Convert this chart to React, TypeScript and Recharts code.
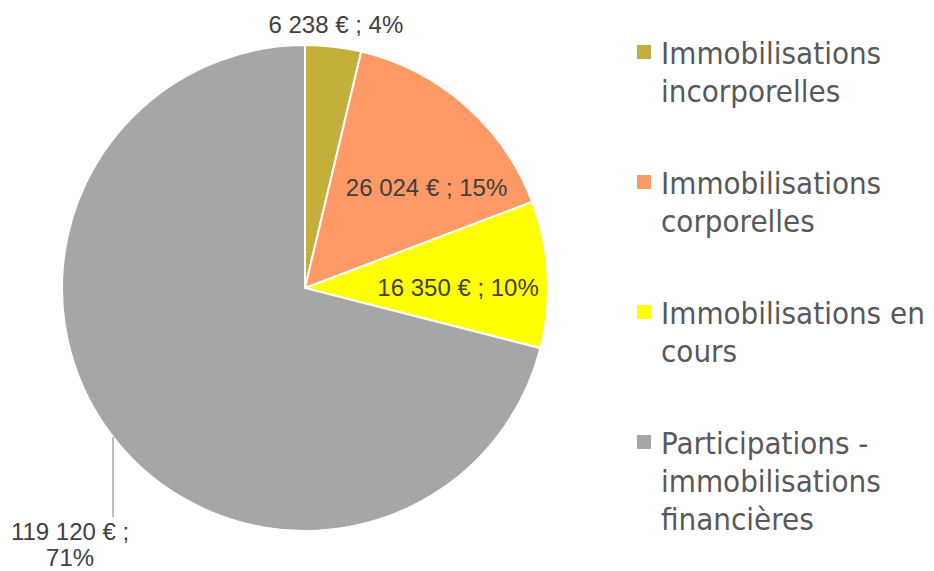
import { Cell, Legend, Pie, PieChart } from "recharts";

const categories = [
  "Immobilisations incorporelles",
  "Immobilisations corporelles",
  "Immobilisations en cours",
  "Participations - immobilisations financières",
];
const values = [6238, 26024, 16350, 119120];
const colors = ["#C4AF3D", "#FF9966", "#FFFF00", "#A6A6A6"];

const data = categories.map((name, i) => ({ name, value: values[i] }));

// Whole percentages that add up to 100 (largest remainder), like the source chart.
const total = values.reduce((s, v) => s + v, 0);
const rawPct = values.map((v) => (v / total) * 100);
const pcts = rawPct.map(Math.floor);
rawPct
  .map((p, i) => ({ i, rem: p - Math.floor(p) }))
  .sort((a, b) => b.rem - a.rem)
  .slice(0, 100 - pcts.reduce((s, v) => s + v, 0))
  .forEach(({ i }) => (pcts[i] += 1));

const RAD = Math.PI / 180;
const LABEL_FONT = "'Liberation Sans', Arial, sans-serif";
const LEGEND_FONT = "'DejaVu Sans Condensed', 'DejaVu Sans', sans-serif";

const fmt = (v: number) => String(v).replace(/\B(?=(\d{3})+(?!\d))/g, " ");

// Excel "best fit" nudges the inner labels a little clockwise to keep them inside.
const nudge: Record<number, number> = { 1: 9, 2: 3 };

function renderLabel(props: any) {
  const { cx, cy, midAngle, outerRadius, percent, value, index } = props;
  const pct = pcts[index];
  const text = `${fmt(value)} € ; ${pct}%`;
  const common = { fill: "#404040", fontSize: 24, fontFamily: LABEL_FONT };

  if (percent < 0.05) {
    const r = outerRadius + 22;
    const x = cx + r * Math.cos(-midAngle * RAD);
    const y = cy + r * Math.sin(-midAngle * RAD);
    return (
      <text x={x} y={y} textAnchor="middle" dominantBaseline="central" {...common}>
        {text}
      </text>
    );
  }

  if (percent > 0.5) {
    const ex = cx + outerRadius * Math.cos(-midAngle * RAD);
    const ey = cy + outerRadius * Math.sin(-midAngle * RAD);
    const ly = ey + 80;
    const tx = ex - 43;
    return (
      <g>
        <path d={`M${ex},${ey}L${ex},${ly}`} stroke="#A6A6A6" strokeWidth={1.5} fill="none" />
        <text x={tx} y={ly + 23} textAnchor="middle" {...common}>
          <tspan x={tx}>{`${fmt(value)} € ;`}</tspan>
          <tspan x={tx} dy={26}>{`${pct}%`}</tspan>
        </text>
      </g>
    );
  }

  const a = midAngle - (nudge[index] ?? 0);
  const r = outerRadius * (index === 2 ? 0.63 : 0.65);
  const x = cx + r * Math.cos(-a * RAD);
  const y = cy + r * Math.sin(-a * RAD);
  return (
    <text x={x} y={y} textAnchor="middle" dominantBaseline="central" {...common}>
      {text}
    </text>
  );
}

function LegendList({ payload }: any) {
  const items = [...(payload ?? [])].sort(
    (a: any, b: any) => categories.indexOf(a.value) - categories.indexOf(b.value)
  );
  return (
    <div>
      {items.map((p: any, i: number) => (
        <div key={i} style={{ display: "flex", alignItems: "flex-start", marginBottom: 54 }}>
          <span
            style={{
              width: 14,
              height: 14,
              marginTop: 11,
              marginRight: 10,
              background: p.color,
              flex: "none",
            }}
          />
          <span
            style={{
              width: 270,
              fontFamily: LEGEND_FONT,
              fontSize: 31,
              lineHeight: "38px",
              color: "#595959",
            }}
          >
            {p.value}
          </span>
        </div>
      ))}
    </div>
  );
}

export default function App() {
  return (
    <PieChart width={926} height={563} margin={{ top: 0, right: 0, bottom: 0, left: 0 }}>
      <Pie
        data={data}
        dataKey="value"
        nameKey="name"
        cx={297}
        cy={280}
        outerRadius={243}
        startAngle={90}
        endAngle={-270}
        stroke="#FFFFFF"
        strokeWidth={2}
        label={renderLabel}
        labelLine={false}
        isAnimationActive={false}
      >
        {data.map((d, i) => (
          <Cell key={d.name} fill={colors[i]} />
        ))}
      </Pie>
      <Legend
        layout="vertical"
        verticalAlign="top"
        align="right"
        content={<LegendList />}
        wrapperStyle={{ left: 629, top: 26, width: 297, right: "auto", bottom: "auto" }}
      />
    </PieChart>
  );
}
